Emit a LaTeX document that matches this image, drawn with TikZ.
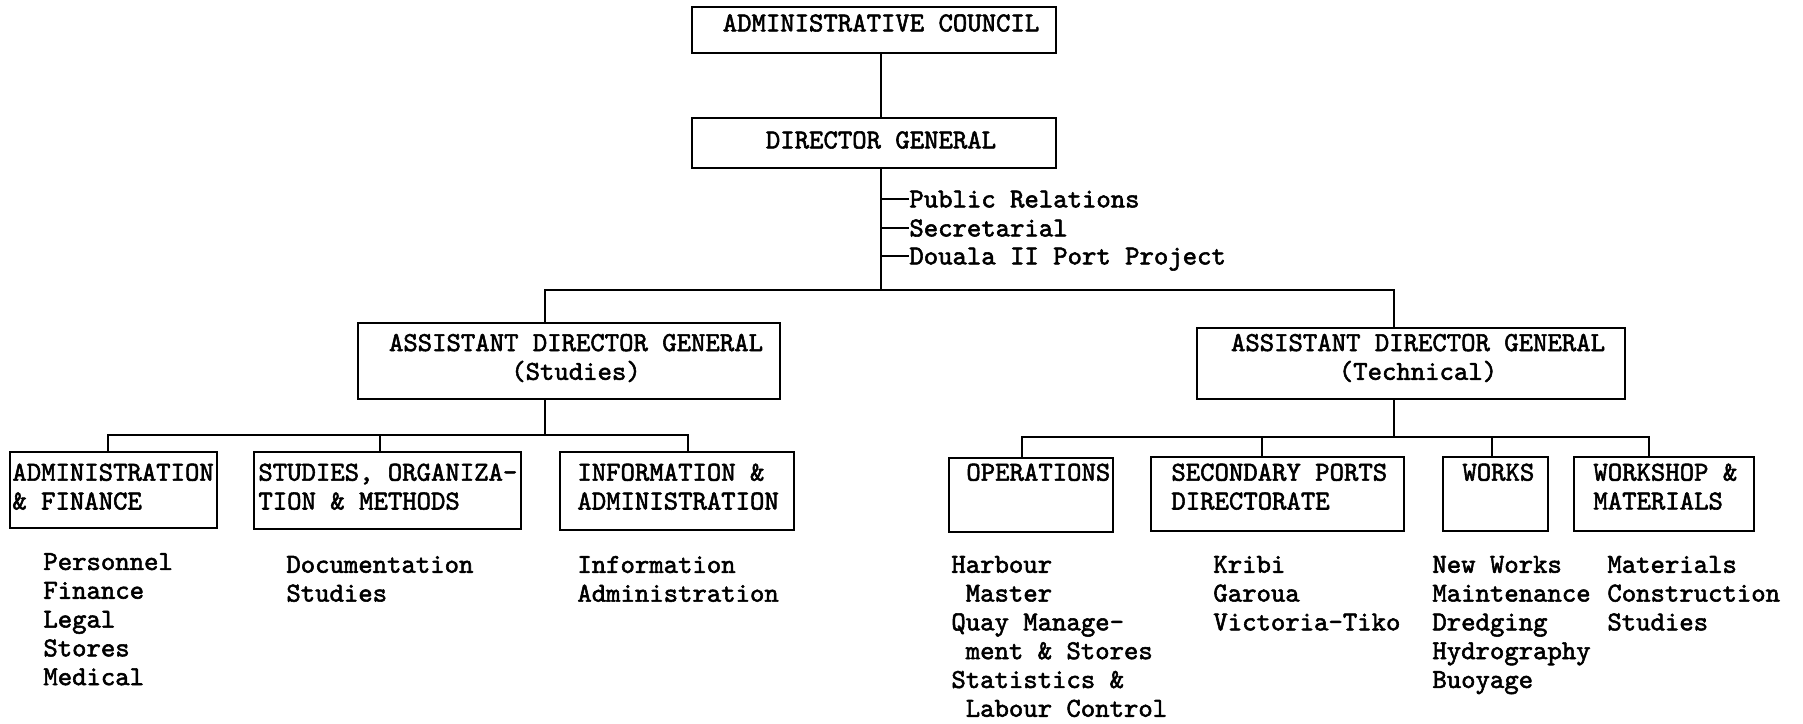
\documentclass[tikz,border=0pt]{standalone}
\usepackage{fontspec}
\setmonofont{lmmono10-regular.otf}[FakeBold=2]
\usepackage{tikz}
\usetikzlibrary{positioning}

\begin{document}
\begin{tikzpicture}[x=1pt, y=-1pt,
    box/.style={draw, line width=1pt, inner sep=0pt},
    txt/.style={inner sep=0pt, align=left, font=\fontsize{13.7}{14.4}\selectfont\ttfamily},
    side/.style={txt, anchor=west, text height=8.4pt, text depth=0pt},
    conn/.style={line width=1.4pt}]
  \useasboundingbox (0,0) rectangle (901.5,361.5);

  \node (council) at (437,15) [box, minimum width=182pt, minimum height=23pt] {};
  \node (dg) at (437,71.5) [box, minimum width=182pt, minimum height=25pt] {};
  \node (adgs) at (284.5,180.5) [box, minimum width=211pt, minimum height=38pt] {};
  \node (adgt) at (705.5,181.75) [box, minimum width=214pt, minimum height=35.5pt] {};
  \node (finance) at (56.75,245) [box, minimum width=103.5pt, minimum height=38pt] {};
  \node (organisation) at (193.75,245.25) [box, minimum width=133.5pt, minimum height=38.5pt] {};
  \node (information) at (338.5,245.5) [box, minimum width=117pt, minimum height=39pt] {};
  \node (operations) at (515.5,247.5) [box, minimum width=82pt, minimum height=37pt] {};
  \node (ports) at (638.75,247) [box, minimum width=126.5pt, minimum height=37pt] {};
  \node (works) at (747.75,247) [box, minimum width=52.5pt, minimum height=37pt] {};
  \node (workshop) at (832,247) [box, minimum width=90pt, minimum height=37pt] {};

  \node (councilname) at (440.5,11.5) [txt] {ADMINISTRATIVE COUNCIL};
  \node (dgname) at (440.5,70) [txt] {DIRECTOR GENERAL};
  \node (adgsname) at (288,179) [txt, align=center] {ASSISTANT DIRECTOR GENERAL\\(Studies)};
  \node (adgtname) at (709,179) [txt, align=center] {ASSISTANT DIRECTOR GENERAL\\(Technical)};
  \node (financename) at (6,231.6) [txt, anchor=north west] {ADMINISTRATION\\\& FINANCE};
  \node (organisationname) at (129,231.6) [txt, anchor=north west] {STUDIES, ORGANIZA-\\TION \& METHODS};
  \node (informationname) at (288.5,231.6) [txt, anchor=north west] {INFORMATION \&\\ADMINISTRATION};
  \node (operationsname) at (483,231.6) [txt, anchor=north west] {OPERATIONS};
  \node (portsname) at (585.5,231.6) [txt, anchor=north west] {SECONDARY PORTS\\DIRECTORATE};
  \node (worksname) at (731,231.6) [txt, anchor=north west] {WORKS};
  \node (workshopname) at (796.5,231.6) [txt, anchor=north west] {WORKSHOP \&\\MATERIALS};

  \node (relations) at (454.5,99.5) [side] {Public Relations};
  \node (secretarial) at (454.5,114) [side] {Secretarial};
  \node (project) at (454.5,128) [side] {Douala II Port Project};

  \node (financelist) at (21.5,276.4) [txt, anchor=north west] {Personnel\\Finance\\Legal\\Stores\\Medical};
  \node (organisationlist) at (143,277.8) [txt, anchor=north west] {Documentation\\Studies};
  \node (informationlist) at (288.5,277.8) [txt, anchor=north west] {Information\\Administration};
  \node (operationslist) at (475.5,277.8) [txt, anchor=north west] {Harbour\\~Master\\Quay Manage-\\~ment \& Stores\\Statistics \&\\~Labour Control};
  \node (portslist) at (606.5,277.8) [txt, anchor=north west] {Kribi\\Garoua\\Victoria-Tiko};
  \node (workslist) at (716,277.8) [txt, anchor=north west] {New Works\\Maintenance\\Dredging\\Hydrography\\Buoyage};
  \node (workshoplist) at (803.5,277.8) [txt, anchor=north west] {Materials\\Construction\\Studies};

  \coordinate (sbar) at (272.5,145);
  \coordinate (tbar) at (697,145);
  \coordinate (sleft) at (54,217.5);
  \coordinate (smid) at (190,217.5);
  \coordinate (sright) at (344,217.5);
  \coordinate (tleft) at (511,218.5);
  \coordinate (tsecond) at (631,218.5);
  \coordinate (tthird) at (746,218.5);
  \coordinate (tright) at (824.5,218.5);

  \draw [conn] (councilname |- council.south) -- (councilname |- dg.north);
  \draw [conn] (dgname |- dg.south) -- (dgname |- sbar);
  \draw [conn] (dgname |- relations.west) -- (relations.west);
  \draw [conn] (dgname |- secretarial.west) -- (secretarial.west);
  \draw [conn] (dgname |- project.west) -- (project.west);
  \draw [conn] (sbar |- adgs.north) -- (sbar) -- (tbar) -- (tbar |- adgt.north);

  \draw [conn] (sbar |- adgs.south) -- (sbar |- sleft);
  \draw [conn] (sleft |- finance.north) -- (sleft) -- (sright) -- (sright |- information.north);
  \draw [conn] (smid) -- (smid |- organisation.north);

  \draw [conn] (tbar |- adgt.south) -- (tbar |- tleft);
  \draw [conn] (tleft |- operations.north) -- (tleft) -- (tright) -- (tright |- workshop.north);
  \draw [conn] (tsecond) -- (tsecond |- ports.north);
  \draw [conn] (tthird) -- (tthird |- works.north);
\end{tikzpicture}
\end{document}
